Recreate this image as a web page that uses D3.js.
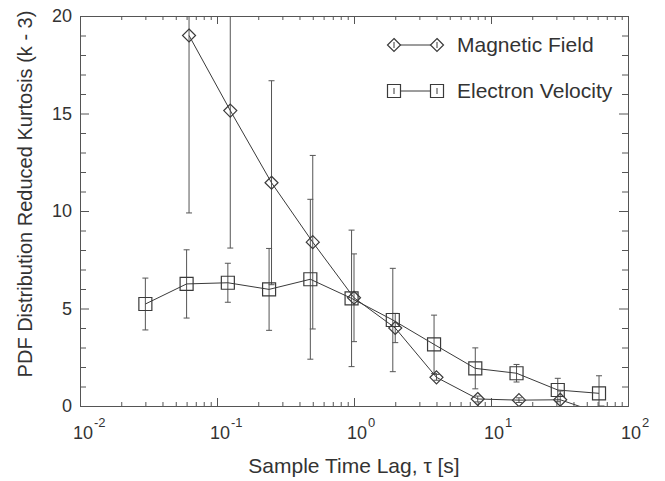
<!DOCTYPE html>
<html>
<head>
<meta charset="utf-8">
<script src="https://cdn.jsdelivr.net/npm/d3@7"></script>
<style>
  body { margin: 0; background: #fff; }
  text { font-family: "Liberation Sans", Arial, sans-serif; fill: #333; }
  .axis path, .axis line { stroke: #555; }
</style>
</head>
<body>
<svg id="chart" width="665" height="481"></svg>
<script>
// Magnetic Field (diamonds)
var magTau = [0.0625, 0.125, 0.25, 0.5, 1, 2, 4, 8, 16, 32, 64];
var magK   = [19.0, 15.15, 11.45, 8.4, 5.55, 4.0, 1.47, 0.36, 0.3, 0.32, -0.4];
var magErr = [9.1, 7.05, 5.23, 4.45, 2.25, 0.75, 0.15, 0.15, 0.12, 0.45, 0.4];

// Electron Velocity (squares)
var velTau = [0.03, 0.06, 0.12, 0.24, 0.48, 0.96, 1.92, 3.84, 7.68, 15.36, 30.72, 61.44];
var velK   = [5.23, 6.26, 6.32, 5.98, 6.5, 5.52, 4.41, 3.16, 1.93, 1.68, 0.82, 0.65];
var velErr = [1.33, 1.75, 1.0, 2.1, 4.1, 3.5, 2.65, 1.5, 1.05, 0.45, 0.6, 0.9];

var seriesNames = ["Magnetic Field", "Electron Velocity"];
var xDecades = [0.01, 0.1, 1, 10, 100];
var xExponents = ["-2", "-1", "0", "1", "2"];
var yTicks = [0, 5, 10, 15, 20];

var margin = {top: 16, right: 37, bottom: 75, left: 80};
var width = 665 - margin.left - margin.right;
var height = 481 - margin.top - margin.bottom;

var x = d3.scaleLog().domain([0.01, 100]).range([0, width]);
var y = d3.scaleLinear().domain([0, 20]).range([height, 0]);

var xMinor = [];
[0.01, 0.1, 1, 10].forEach(function(d) {
    for (var m = 2; m <= 9; m++) xMinor.push(m * d);
});
var yMinor = d3.range(0, 21).filter(function(v) { return v % 5 !== 0; });

var svg = d3.select("#chart")
  .append("g")
    .attr("transform", "translate(" + margin.left + "," + margin.top + ")");

svg.append("defs").append("clipPath").attr("id", "plotclip")
  .append("rect").attr("width", width).attr("height", height);

// axes, ticks pointing inward on all four sides
function addAxis(axis, tx, ty) {
    svg.append("g").attr("class", "axis")
        .attr("transform", "translate(" + tx + "," + ty + ")")
        .call(axis);
}
addAxis(d3.axisBottom(x).tickValues(xDecades).tickSize(-8).tickSizeOuter(0).tickFormat(""), 0, height);
addAxis(d3.axisBottom(x).tickValues(xMinor).tickSize(-4).tickSizeOuter(0).tickFormat(""), 0, height);
addAxis(d3.axisTop(x).tickValues(xDecades).tickSize(-8).tickSizeOuter(0).tickFormat(""), 0, 0);
addAxis(d3.axisTop(x).tickValues(xMinor).tickSize(-4).tickSizeOuter(0).tickFormat(""), 0, 0);
addAxis(d3.axisRight(y).tickValues(yTicks).tickSize(-9).tickSizeOuter(0).tickFormat(""), width, 0);
addAxis(d3.axisRight(y).tickValues(yMinor).tickSize(-6).tickSizeOuter(0).tickFormat(""), width, 0);
addAxis(d3.axisLeft(y).tickValues(yMinor).tickSize(-6).tickSizeOuter(0).tickFormat(""), 0, 0);

svg.append("g").attr("class", "axis y")
    .call(d3.axisLeft(y).tickValues(yTicks).tickSize(-9).tickSizeOuter(0).tickPadding(8))
    .selectAll("text")
    .style("font-size", "18px")
    .style("fill", "#333");
svg.selectAll(".axis .domain").attr("stroke", "#555");

// x tick labels as 10^n
var xl = svg.append("g");
xDecades.forEach(function(d, i) {
    var base = xl.append("text")
        .attr("x", x(d) + 3)
        .attr("y", height + 33)
        .attr("text-anchor", "middle")
        .style("font-size", "18px")
        .text("10");
    var w = base.node().getComputedTextLength();
    xl.append("text")
        .attr("x", x(d) + 3 + w / 2 + 1)
        .attr("y", height + 21)
        .style("font-size", "13px")
        .text(xExponents[i]);
});

// titles
svg.append("text")
    .attr("x", width / 2)
    .attr("y", height + 67)
    .attr("text-anchor", "middle")
    .style("font-size", "21px")
    .text("Sample Time Lag, \u03c4 [s]");

svg.append("text")
    .attr("transform", "rotate(-90)")
    .attr("x", -178)
    .attr("y", -48)
    .attr("text-anchor", "middle")
    .style("font-size", "20px")
    .text("PDF Distribution Reduced Kurtosis (k - 3)");

var magData = magTau.map(function(t, i) { return {t: t, k: magK[i], e: magErr[i]}; });
var velData = velTau.map(function(t, i) { return {t: t, k: velK[i], e: velErr[i]}; });

var plot = svg.append("g").attr("clip-path", "url(#plotclip)");
var ink = "#3a3a3a";

function errorBars(data) {
    var g = plot.append("g").attr("stroke", "#555").attr("stroke-width", 1);
    g.selectAll(".ebar").data(data).enter().append("line")
        .attr("x1", function(d) { return x(d.t); })
        .attr("x2", function(d) { return x(d.t); })
        .attr("y1", function(d) { return y(d.k - d.e); })
        .attr("y2", function(d) { return y(d.k + d.e); });
    g.selectAll(".ctop").data(data).enter().append("line")
        .attr("x1", function(d) { return x(d.t) - 3; })
        .attr("x2", function(d) { return x(d.t) + 3; })
        .attr("y1", function(d) { return y(d.k + d.e); })
        .attr("y2", function(d) { return y(d.k + d.e); });
    g.selectAll(".cbot").data(data).enter().append("line")
        .attr("x1", function(d) { return x(d.t) - 3; })
        .attr("x2", function(d) { return x(d.t) + 3; })
        .attr("y1", function(d) { return y(d.k - d.e); })
        .attr("y2", function(d) { return y(d.k - d.e); });
}
errorBars(velData);
errorBars(magData);

var line = d3.line()
    .x(function(d) { return x(d.t); })
    .y(function(d) { return y(d.k); });

plot.append("path").datum(velData)
    .attr("d", line).attr("fill", "none").attr("stroke", ink).attr("stroke-width", 1);
plot.append("path").datum(magData)
    .attr("d", line).attr("fill", "none").attr("stroke", ink).attr("stroke-width", 1);

var diamond = "M0,-6.5L6.5,0L0,6.5L-6.5,0Z";
var square = "M-6.5,-6.5H6.5V6.5H-6.5Z";

plot.selectAll(".sq").data(velData).enter().append("path")
    .attr("d", square)
    .attr("transform", function(d) { return "translate(" + x(d.t) + "," + y(d.k) + ")"; })
    .attr("fill", "none").attr("stroke", ink).attr("stroke-width", 1.2);
plot.selectAll(".dm").data(magData).enter().append("path")
    .attr("d", diamond)
    .attr("transform", function(d) { return "translate(" + x(d.t) + "," + y(d.k) + ")"; })
    .attr("fill", "none").attr("stroke", ink).attr("stroke-width", 1.2);

// legend
var legend = svg.append("g").attr("transform", "translate(314,29)");
var shapes = [diamond, square];
seriesNames.forEach(function(name, i) {
    var g = legend.append("g").attr("transform", "translate(0," + (i * 46) + ")");
    g.append("line").attr("x1", 0).attr("x2", 43).attr("y1", 0).attr("y2", 0)
        .attr("stroke", ink);
    [0, 43].forEach(function(px) {
        g.append("path").attr("d", shapes[i])
            .attr("transform", "translate(" + px + ",0)")
            .attr("fill", "#fff").attr("stroke", ink).attr("stroke-width", 1.2);
        g.append("line").attr("x1", px).attr("x2", px).attr("y1", -3).attr("y2", 3)
            .attr("stroke", ink);
    });
    g.append("text").attr("x", 63).attr("y", 4 + 3).style("font-size", "21px").text(name);
});
</script>
</body>
</html>
